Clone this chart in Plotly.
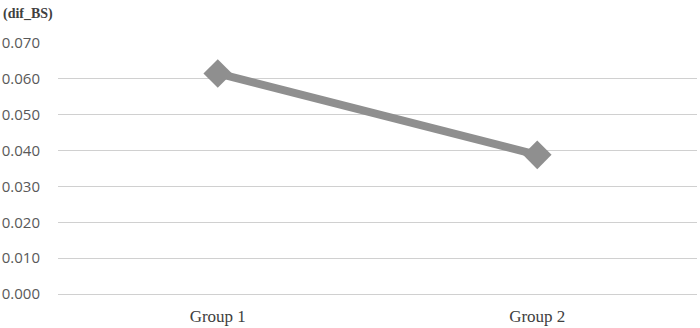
import plotly.graph_objects as go

categories = ["Group 1", "Group 2"]
values = [0.0615, 0.0388]
y_ticks = [0.0, 0.01, 0.02, 0.03, 0.04, 0.05, 0.06, 0.07]
y_tick_labels = ["0.000", "0.010", "0.020", "0.030", "0.040", "0.050", "0.060", "0.070"]

fig = go.Figure()
fig.add_trace(go.Scatter(
    x=categories, y=values, mode="lines+markers",
    line=dict(color="#8f8f8f", width=8),
    marker=dict(symbol="diamond", size=22, color="#8f8f8f"),
    showlegend=False,
))

fig.update_layout(
    width=700, height=328,
    margin=dict(l=58, r=3, t=43, b=34),
    paper_bgcolor="white", plot_bgcolor="white",
    annotations=[dict(text="<b>(dif_BS)</b>", xref="paper", yref="paper",
                      x=-57/639, y=1 + 29/251, xanchor="left", yanchor="middle",
                      showarrow=False,
                      font=dict(family="Liberation Serif, serif", size=14, color="#404040"))],
)

fig.update_yaxes(
    range=[0, 0.07], tickvals=y_ticks, ticktext=y_tick_labels,
    showgrid=True, gridcolor="#d0d0d0", gridwidth=1,
    zeroline=True, zerolinecolor="#d0d0d0", zerolinewidth=1, showline=False,
    ticks="outside", ticklen=14, tickcolor="rgba(0,0,0,0)", automargin=False,
    tickfont=dict(family="Open Sans", size=15, color="#595959"),
)
fig.update_xaxes(
    range=[-0.5, 1.5], automargin=False,
    showgrid=False, zeroline=False, showline=False,
    ticks="outside", ticklen=7, tickcolor="rgba(0,0,0,0)",
    tickfont=dict(family="Liberation Serif, serif", size=17, color="#404040"),
)

fig.write_html("out.html")
